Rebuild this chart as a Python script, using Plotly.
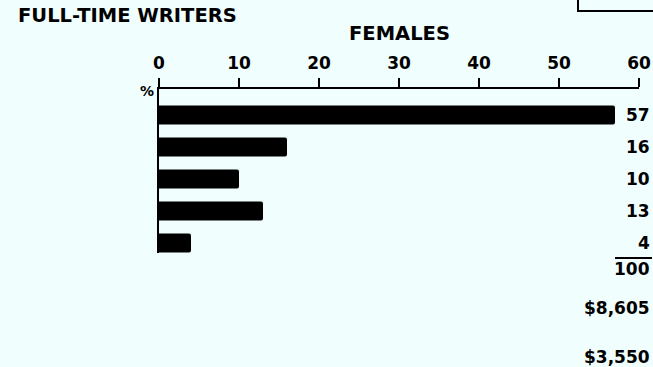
import plotly.graph_objects as go

# Share of female full-time writers by income bracket (percent)
categories = ["A", "B", "C", "D", "E"]
percent = [57, 16, 10, 13, 4]
total_label = "100"
median_labels = ["$8,605", "$3,550"]
tick_values = [0, 10, 20, 30, 40, 50, 60]

W, H = 653, 367
L, R = 159, 639          # plot area horizontal extent (px)
T, B = 89, 253           # plot area vertical extent (px)
BG = "#f0fefe"
FONT = "DejaVu Sans"


def px_x(p):
    return (p - L) / (R - L)


def px_y(p):
    return (B - p) / (B - T)


fig = go.Figure()
fig.add_trace(go.Bar(
    y=list(range(len(categories))),
    x=percent,
    orientation="h",
    width=0.6,
    marker=dict(color="black", line=dict(width=0), cornerradius=2),
    hoverinfo="skip",
))

annotations = []
# value labels on the right
for i, v in enumerate(percent):
    annotations.append(dict(
        x=px_x(652), xref="paper", y=i, yref="y", text=f"<b>{v}</b>",
        showarrow=False, xanchor="right", yanchor="middle",
        font=dict(family=FONT, size=17, color="black"),
    ))
annotations.append(dict(
    x=px_x(652), xref="paper", y=px_y(269), yref="paper", text=f"<b>{total_label}</b>",
    showarrow=False, xanchor="right", yanchor="middle",
    font=dict(family=FONT, size=17, color="black"),
))
for lbl, py in zip(median_labels, [308, 357]):
    annotations.append(dict(
        x=px_x(652), xref="paper", y=px_y(py), yref="paper", text=f"<b>{lbl}</b>",
        showarrow=False, xanchor="right", yanchor="middle",
        font=dict(family=FONT, size=17, color="black"),
    ))
# titles
annotations.append(dict(
    x=px_x(16), xref="paper", y=px_y(15), yref="paper", text="<b>FULL-TIME WRITERS</b>",
    showarrow=False, xanchor="left", yanchor="middle",
    font=dict(family=FONT, size=19.5, color="black"),
))
annotations.append(dict(
    x=px_x(399), xref="paper", y=px_y(34), yref="paper", text="<b>FEMALES</b>",
    showarrow=False, xanchor="center", yanchor="middle",
    font=dict(family=FONT, size=19.5, color="black"),
))
annotations.append(dict(
    x=px_x(147), xref="paper", y=px_y(91), yref="paper", text="<b>%</b>",
    showarrow=False, xanchor="center", yanchor="middle",
    font=dict(family=FONT, size=14, color="black"),
))

shapes = [
    # rule above the total
    dict(type="line", xref="paper", yref="paper",
         x0=px_x(615), x1=px_x(652), y0=px_y(258), y1=px_y(258),
         line=dict(color="black", width=2)),
    # corner of the neighbouring panel box
    dict(type="path", xref="paper", yref="paper",
         path=f"M {px_x(578)},{px_y(-2)} L {px_x(578)},{px_y(11)} L {px_x(660)},{px_y(11)}",
         line=dict(color="black", width=2)),
]

fig.update_layout(
    width=W, height=H,
    margin=dict(l=L, r=W - R, t=T, b=H - B, pad=0),
    paper_bgcolor=BG, plot_bgcolor=BG,
    showlegend=False,
    annotations=annotations,
    shapes=shapes,
    xaxis=dict(
        side="top", range=[0, 60], tickvals=tick_values,
        ticktext=[f"<b>{t}</b>" for t in tick_values],
        ticks="outside", ticklen=9, tickwidth=2, tickcolor="black",
        showline=True, linewidth=2, linecolor="black",
        showgrid=False, zeroline=False, automargin=False,
        tickfont=dict(family=FONT, size=17, color="black"),
        ticklabelstandoff=2,
        fixedrange=True,
    ),
    yaxis=dict(
        range=[4.3125, -0.8125], showticklabels=False, ticks="",
        showline=True, linewidth=2, linecolor="black",
        showgrid=False, zeroline=False, automargin=False, fixedrange=True,
    ),
)

fig.write_html("out.html")
